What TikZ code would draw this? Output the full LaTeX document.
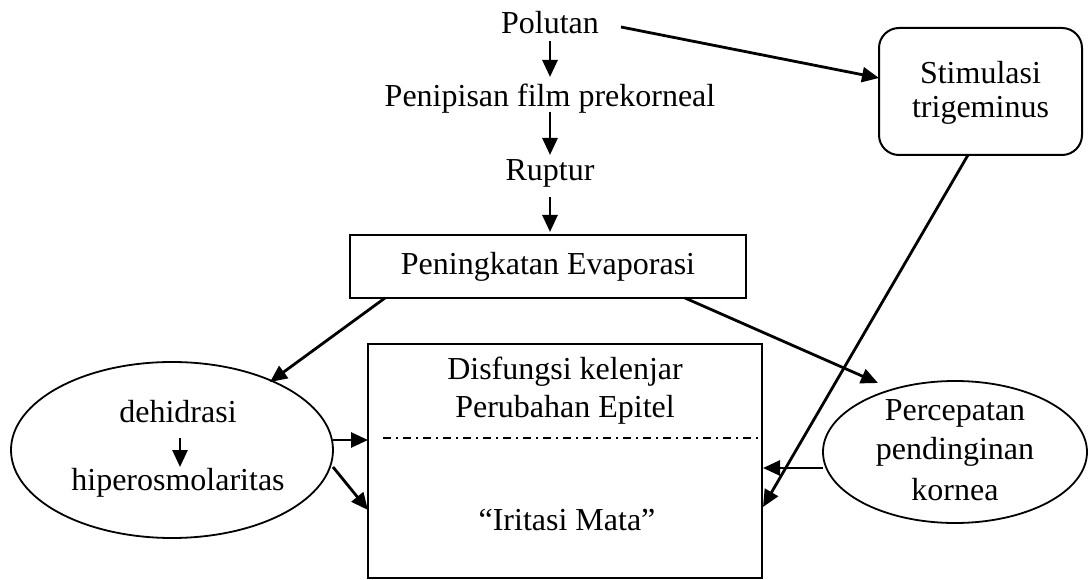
\documentclass[tikz,border=0pt]{standalone}
\usepackage{fontspec}
\setmainfont{Liberation Serif}
\usetikzlibrary{shapes.geometric,arrows.meta}
\begin{document}
\begin{tikzpicture}[x=1pt,y=-1pt,
  font=\fontsize{32}{38}\selectfont,
  arr/.style={line width=2.8pt,-{Triangle[length=17pt,width=15pt]}},
  box/.style={draw,line width=2pt,inner sep=0pt},
  oval/.style={draw,ellipse,line width=1.8pt,inner sep=0pt},
  txt/.style={inner sep=0pt,anchor=center}]
\useasboundingbox (0,0) rectangle (1088,580);
% texts of the chain
\node[txt] (pol) at (550,23) {Polutan};
\node[txt] (pen) at (550,99) {Penipisan film prekorneal};
\node[txt] (rup) at (550,173) {Ruptur};
% boxes
\node[box,minimum width=396pt,minimum height=63pt] (evap) at (548,266.5) {};
\node[txt] at (evap.center) {Peningkatan Evaporasi};
\node[box,minimum width=394pt,minimum height=234pt] (big) at (565,461) {};
\node[txt] (dis) at (565,372) {Disfungsi kelenjar};
\node[txt] (epi) at (565,410) {Perubahan Epitel};
\node[txt] (iri) at (567,520) {``Iritasi Mata''};
\node[box,rounded corners=20pt,minimum width=203pt,minimum height=127pt] (stim) at (980.5,91.5) {};
\node[txt] (st1) at (980.5,73) {Stimulasi};
\node[txt] (st2) at (980.5,110) {trigeminus};
% ellipses
\node[oval,minimum width=322pt,minimum height=176pt] (le) at (172,450) {};
\node[txt] (deh) at (178,412) {dehidrasi};
\node[txt] (hip) at (178,483) {hiperosmolaritas};
\node[oval,minimum width=264pt,minimum height=142pt] (re) at (955,452) {};
\node[txt] (per) at (955,413) {Percepatan};
\node[txt] (pend) at (955,452) {pendinginan};
\node[txt] (kor) at (955,490) {kornea};
% dash-dot separator
\coordinate (dl) at (383,438);
\coordinate (dr) at (760,438);
\draw[line width=1.6pt,dash pattern=on 8pt off 5pt on 2pt off 5pt] (dl) -- (dr);
% connector end points
\coordinate (p1) at (550,41);  \coordinate (p2) at (550,77);
\coordinate (p3) at (550,112); \coordinate (p4) at (550,155);
\coordinate (p5) at (550,197); \coordinate (p6) at (550,232);
\coordinate (ps) at (621,27);  \coordinate (pt) at (879,78);
\coordinate (eL) at (385,298); \coordinate (eLt) at (270,382);
\coordinate (eR) at (685,298); \coordinate (eRt) at (878,383);
\coordinate (sb) at (968,155); \coordinate (sbt) at (763,507);
\coordinate (l1) at (333,440); \coordinate (l1t) at (368,440);
\coordinate (l2) at (333,467); \coordinate (l2t) at (368,510);
\coordinate (r1) at (823,468); \coordinate (r1t) at (763,468);
\coordinate (d1) at (180,438); \coordinate (d2) at (180,467);
% connectors
\draw[arr] (p1) -- (p2);
\draw[arr] (p3) -- (p4);
\draw[arr] (p5) -- (p6);
\draw[arr] (ps) -- (pt);
\draw[arr] (eL) -- (eLt);
\draw[arr] (eR) -- (eRt);
\draw[arr] (sb) -- (sbt);
\draw[arr] (l1) -- (l1t);
\draw[arr] (l2) -- (l2t);
\draw[arr] (r1) -- (r1t);
\draw[arr] (d1) -- (d2);
\end{tikzpicture}
\end{document}
